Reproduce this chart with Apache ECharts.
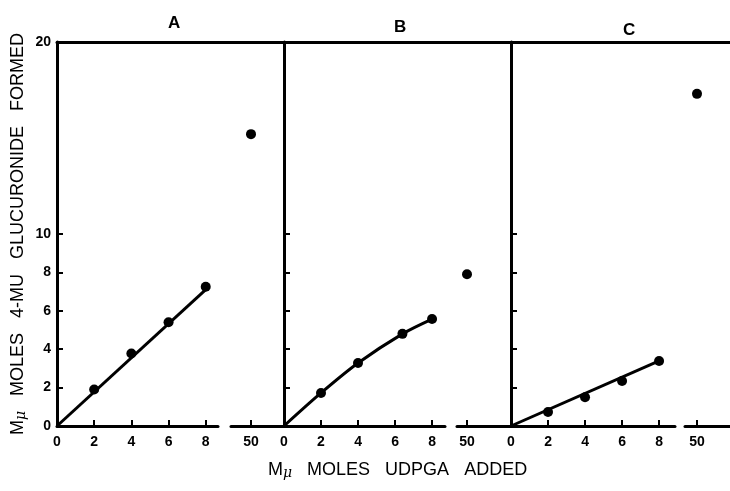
<!DOCTYPE HTML>
<html>
<head>
	<meta charset="utf-8" />
	<title>UDPGA glucuronide</title>
	<script src="https://cdn.jsdelivr.net/npm/echarts@6/dist/echarts.min.js"></script>
	<style>
		body { margin: 0; background: #fff; }
	</style>
</head>
<body>
	<div id="main" style="width: 730px;height:491px;"></div>
	<script type="text/javascript">
		// values
		var panelNames = ["A", "B", "C"];
		var yLabels = [0, 2, 4, 6, 8, 10, 20];
		var yTicks = [2, 4, 6, 8, 10];
		var xLabels = [0, 2, 4, 6, 8];
		var xTicks = [2, 4, 6, 8];
		var breakValue = 50;

		var aX = [2, 4, 6, 8];
		var aY = [1.9, 3.78, 5.4, 7.25];
		var aFit = [[0, 0], [8, 7.1]];
		var a50 = 15.2;

		var bX = [2, 4, 6.4, 8];
		var bY = [1.72, 3.28, 4.8, 5.57];
		var bFit = [[0, 0], [2, 1.72], [4, 3.28], [6.4, 4.8], [8, 5.57]];
		var b50 = 7.9;

		var cX = [2, 4, 6, 8];
		var cY = [0.73, 1.5, 2.34, 3.39];
		var cFit = [[0, 0], [8, 3.39]];
		var c50 = 17.3;

		var font = "Liberation Sans";
		var ink = "#000";

		function zip(xs, ys) {
			var out = [];
			for (var i = 0; i < xs.length; i++) out.push([xs[i], ys[i]]);
			return out;
		}

		// grids: frame, then main/break pairs for A, B, C
		var grids = [
			{ left: 57, width: 673, top: 42, height: 384 },
			{ left: 57, width: 161, top: 42, height: 384 },
			{ left: 231, width: 53, top: 42, height: 384 },
			{ left: 284, width: 161, top: 42, height: 384 },
			{ left: 457, width: 54, top: 42, height: 384 },
			{ left: 511, width: 164, top: 42, height: 384 },
			{ left: 685, width: 45, top: 42, height: 384 }
		];
		var xRanges = [
			[0, 1], [0, 8.66], [48, 53.3], [0, 8.7], [49, 54.4], [0, 8.86], [48.8, 53.3]
		];

		var axisLine = { show: true, onZero: false, lineStyle: { color: ink, width: 3 } };
		var labelStyle = { color: ink, fontFamily: font, fontWeight: "bold", fontSize: 14 };
		var nameRich = {
			m: { color: ink, fontFamily: font, fontSize: 18 },
			mu: { color: ink, fontFamily: "DejaVu Serif", fontStyle: "italic", fontSize: 14, padding: [6, 0, 0, 0] }
		};

		var xAxes = [];
		var yAxes = [];
		for (var g = 0; g < grids.length; g++) {
			var isFrame = g === 0;
			var isBreak = g === 2 || g === 4 || g === 6;
			xAxes.push({
				type: "value", gridIndex: g, min: xRanges[g][0], max: xRanges[g][1],
				position: isFrame ? "top" : "bottom",
				axisLine: axisLine,
				splitLine: { show: false },
				axisTick: isFrame ? { show: false } : {
					show: true, inside: true, length: 6,
					customValues: isBreak ? [breakValue] : xTicks,
					lineStyle: { color: ink, width: 2 }
				},
				axisLabel: isFrame ? { show: false } : Object.assign({
					show: true, margin: 9,
					customValues: isBreak ? [breakValue] : xLabels
				}, labelStyle)
			});
			var showY = g === 1 || g === 3 || g === 5;
			yAxes.push({
				type: "value", gridIndex: g, min: 0, max: 20,
				splitLine: { show: false },
				axisLine: showY ? axisLine : { show: false },
				axisTick: showY ? {
					show: true, inside: true, length: 6, customValues: yTicks,
					lineStyle: { color: ink, width: 2 }
				} : { show: false },
				axisLabel: g === 1 ? Object.assign({ show: true, margin: 6, customValues: yLabels }, labelStyle) : { show: false },
				name: g === 1 ? "{m|M}{mu|μ}   {m|MOLES   4-MU   GLUCURONIDE   FORMED}" : "",
				nameLocation: "middle",
				nameGap: 29,
				nameRotate: 90,
				nameTextStyle: { color: ink, fontFamily: font, fontSize: 18, rich: nameRich }
			});
		}

		function fitLine(idx, data) {
			return {
				type: "line", xAxisIndex: idx, yAxisIndex: idx, data: data,
				smooth: data.length > 2 ? 0.3 : false, showSymbol: false,
				lineStyle: { color: ink, width: 3 }, z: 2, silent: true
			};
		}
		function dots(idx, data) {
			return {
				type: "scatter", xAxisIndex: idx, yAxisIndex: idx, data: data,
				symbolSize: 10, itemStyle: { color: ink, opacity: 1 }, z: 3, silent: true
			};
		}

		var series = [
			fitLine(1, aFit), dots(1, zip(aX, aY)), dots(2, [[breakValue, a50]]),
			fitLine(3, bFit), dots(3, zip(bX, bY)), dots(4, [[breakValue, b50]]),
			fitLine(5, cFit), dots(5, zip(cX, cY)), dots(6, [[breakValue, c50]])
		];

		var titleStyle = { color: ink, fontFamily: font, fontWeight: "bold", fontSize: 17 };
		var titles = [
			{ text: panelNames[0], left: 163, top: 10, textStyle: titleStyle },
			{ text: panelNames[1], left: 389, top: 14, textStyle: titleStyle },
			{ text: panelNames[2], left: 618, top: 17, textStyle: titleStyle },
			{
				text: "{m|M}{mu|μ}   {m|MOLES   UDPGA   ADDED}", left: 263, top: 455,
				textStyle: { color: ink, fontFamily: font, fontWeight: "normal", fontSize: 18, rich: nameRich }
			}
		];

		var myChart = echarts.init(document.getElementById("main"));
		myChart.setOption({
			backgroundColor: "#fff",
			animation: false,
			title: titles,
			grid: grids,
			xAxis: xAxes,
			yAxis: yAxes,
			series: series
		});
	</script>
</body>
</html>
